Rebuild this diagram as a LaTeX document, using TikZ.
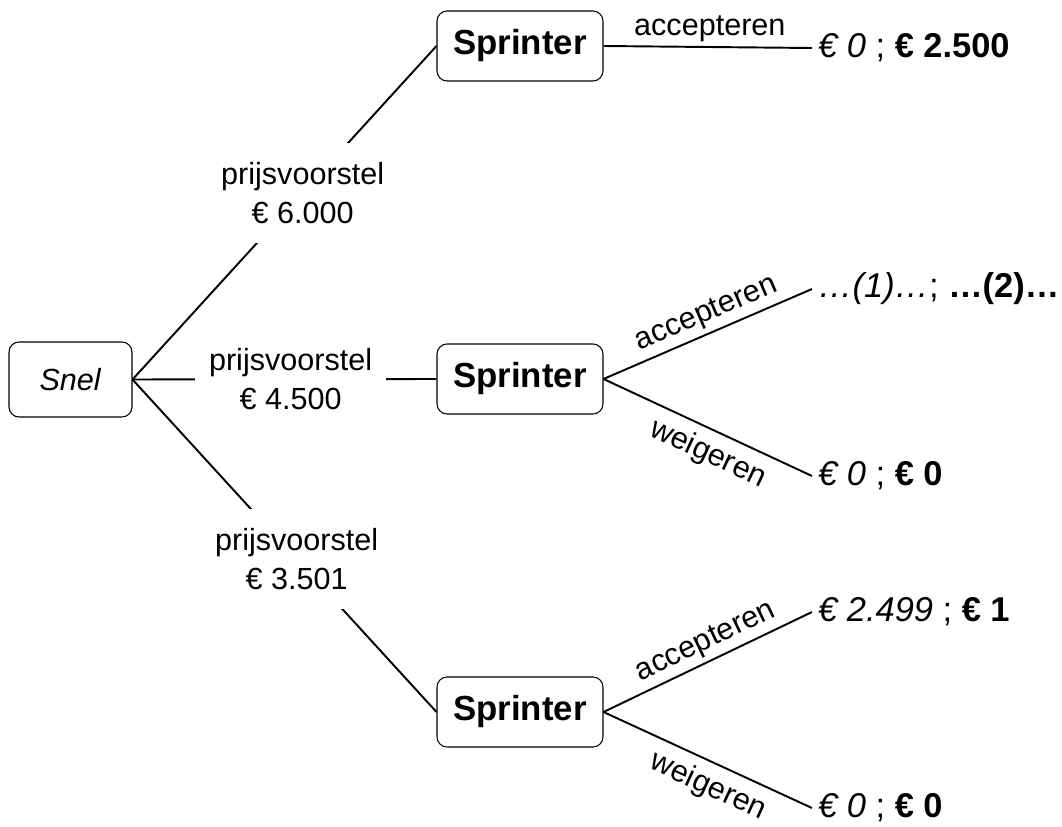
\documentclass[tikz,border=0pt]{standalone}
\usepackage{fontspec}
\setmainfont{Liberation Sans}
\begin{document}
\begin{tikzpicture}[x=0.02cm, y=-0.02cm,
	every node/.style={font=\fontsize{17.4}{22.2}\selectfont},
	box/.style={draw, line width=0.6pt, rounded corners=0.2cm},
	sprinter/.style={box, minimum width=3.32cm, minimum height=1.4cm,
		font=\fontsize{19.8}{22}\selectfont\bfseries},
	keuze/.style={fill=white, align=center, inner xsep=8pt, inner ysep=11pt},
	tak/.style={line width=1.1pt},
	boven/.style={inner sep=2.5pt, above, sloped, pos=0.53},
	onder/.style={inner sep=5pt, below, sloped, pos=0.55},
	uitkomst/.style={anchor=west, font=\fontsize{19.6}{22}\selectfont}]
	\useasboundingbox (0,0) rectangle (1062,827);

	% Spelers
	\node[box, minimum width=2.46cm, minimum height=1.5cm] (snel) at (70.5,379.5) {\textit{Snel}};
	\node[sprinter] (spr1) at (520,46) {Sprinter};
	\node[sprinter] (spr2) at (520,379) {Sprinter};
	\node[sprinter] (spr3) at (520,712) {Sprinter};

	% Uitkomsten
	\node[uitkomst] (u1) at (812,48) {\textit{€ 0} ; \textbf{€ 2.500}};
	\node[uitkomst] (u2) at (812,289) {\textit{…(1)…}; \textbf{…(2)…}};
	\node[uitkomst] (u3) at (812,476) {\textit{€ 0} ; \textbf{€ 0}};
	\node[uitkomst] (u4) at (812,612) {\textit{€ 2.499} ; \textbf{€ 1}};
	\node[uitkomst] (u5) at (812,808) {\textit{€ 0} ; \textbf{€ 0}};

	% Prijsvoorstellen
	\draw[tak] (snel.east) -- node[keuze, pos=0.56] (p1) {prijsvoorstel\\€ 6.000} (spr1.west);
	\draw[tak] (snel.east) -- node[keuze, pos=0.52] (p2) {prijsvoorstel\\€ 4.500} (spr2.west);
	\draw[tak] (snel.east) -- node[keuze, pos=0.54] (p3) {prijsvoorstel\\€ 3.501} (spr3.west);

	% Reacties
	\draw[tak] (spr1.east) -- node[inner sep=2.5pt, above, pos=0.51] {accepteren} (u1.west);
	\draw[tak] (spr2.east) -- node[boven] {accepteren} (u2.west);
	\draw[tak] (spr2.east) -- node[onder] {weigeren} (u3.west);
	\draw[tak] (spr3.east) -- node[boven] {accepteren} (u4.west);
	\draw[tak] (spr3.east) -- node[onder] {weigeren} (u5.west);
\end{tikzpicture}
\end{document}
